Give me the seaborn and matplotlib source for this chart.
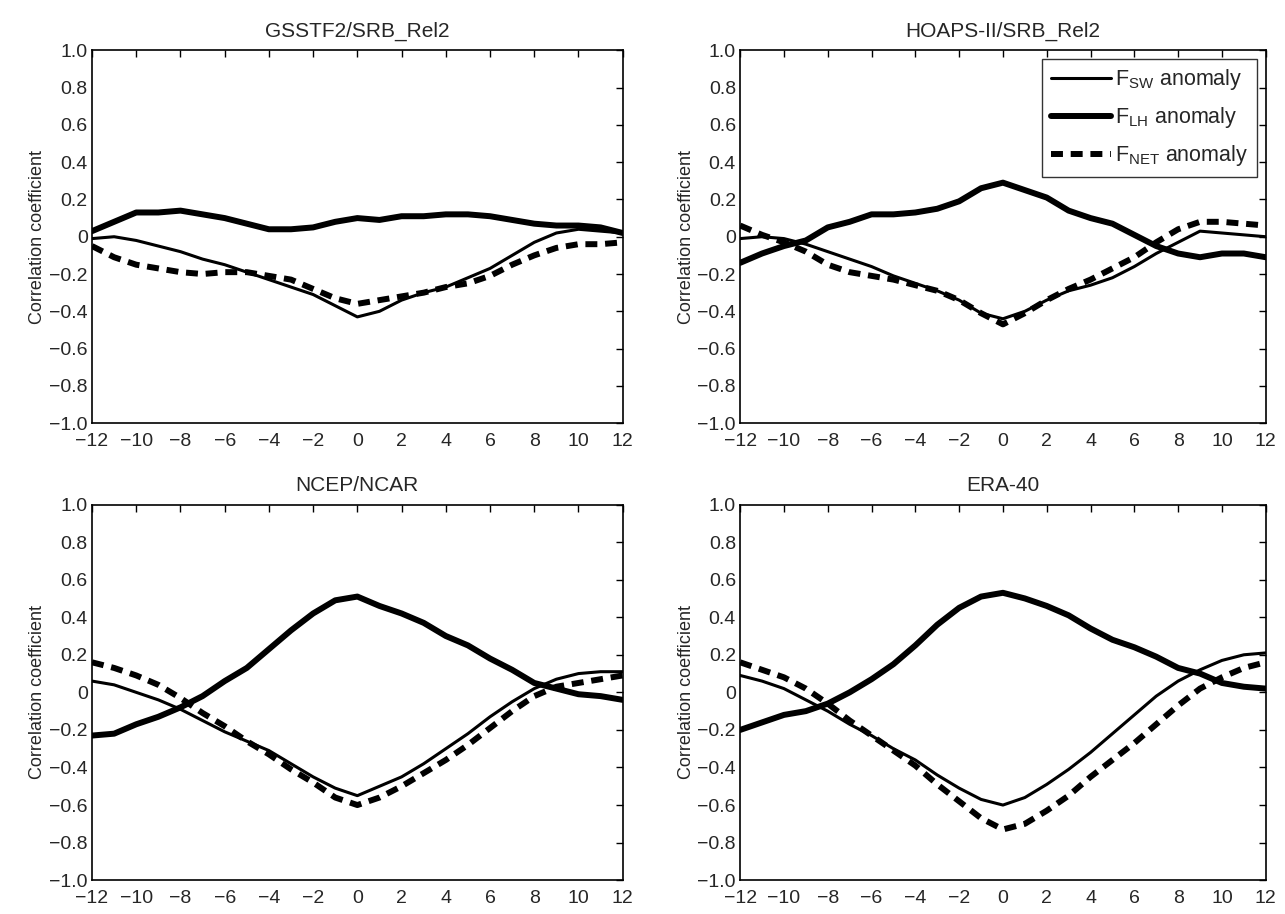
import numpy as np
import pandas as pd
import matplotlib
matplotlib.use("Agg")
import matplotlib.pyplot as plt
import seaborn as sns

# lag in months
lags = list(range(-12, 13))

titles = ["GSSTF2/SRB_Rel2", "HOAPS-II/SRB_Rel2", "NCEP/NCAR", "ERA-40"]

# F_SW anomaly (thin solid)
sw_gsstf = [-0.01, 0.0, -0.02, -0.05, -0.08, -0.12, -0.15, -0.19, -0.23, -0.27, -0.31, -0.37, -0.43,
            -0.40, -0.34, -0.30, -0.27, -0.22, -0.17, -0.10, -0.03, 0.02, 0.04, 0.03, 0.02]
sw_hoaps = [-0.01, 0.0, -0.01, -0.04, -0.08, -0.12, -0.16, -0.21, -0.25, -0.29, -0.34, -0.41, -0.44,
            -0.40, -0.34, -0.29, -0.26, -0.22, -0.16, -0.09, -0.03, 0.03, 0.02, 0.01, 0.0]
sw_ncep = [0.06, 0.04, 0.0, -0.04, -0.09, -0.15, -0.21, -0.26, -0.31, -0.38, -0.45, -0.51, -0.55,
           -0.50, -0.45, -0.38, -0.30, -0.22, -0.13, -0.05, 0.02, 0.07, 0.10, 0.11, 0.11]
sw_era = [0.09, 0.06, 0.02, -0.04, -0.10, -0.17, -0.23, -0.30, -0.36, -0.44, -0.51, -0.57, -0.60,
          -0.56, -0.49, -0.41, -0.32, -0.22, -0.12, -0.02, 0.06, 0.12, 0.17, 0.20, 0.21]

# F_LH anomaly (thick solid)
lh_gsstf = [0.03, 0.08, 0.13, 0.13, 0.14, 0.12, 0.10, 0.07, 0.04, 0.04, 0.05, 0.08, 0.10,
            0.09, 0.11, 0.11, 0.12, 0.12, 0.11, 0.09, 0.07, 0.06, 0.06, 0.05, 0.02]
lh_hoaps = [-0.14, -0.09, -0.05, -0.02, 0.05, 0.08, 0.12, 0.12, 0.13, 0.15, 0.19, 0.26, 0.29,
            0.25, 0.21, 0.14, 0.10, 0.07, 0.01, -0.05, -0.09, -0.11, -0.09, -0.09, -0.11]
lh_ncep = [-0.23, -0.22, -0.17, -0.13, -0.08, -0.02, 0.06, 0.13, 0.23, 0.33, 0.42, 0.49, 0.51,
           0.46, 0.42, 0.37, 0.30, 0.25, 0.18, 0.12, 0.05, 0.02, -0.01, -0.02, -0.04]
lh_era = [-0.20, -0.16, -0.12, -0.10, -0.06, 0.0, 0.07, 0.15, 0.25, 0.36, 0.45, 0.51, 0.53,
          0.50, 0.46, 0.41, 0.34, 0.28, 0.24, 0.19, 0.13, 0.10, 0.05, 0.03, 0.02]

# F_NET anomaly (thick dashed)
net_gsstf = [-0.05, -0.11, -0.15, -0.17, -0.19, -0.20, -0.19, -0.19, -0.21, -0.23, -0.28, -0.33, -0.36,
             -0.34, -0.32, -0.30, -0.27, -0.25, -0.21, -0.15, -0.10, -0.06, -0.04, -0.04, -0.03]
net_hoaps = [0.06, 0.01, -0.03, -0.08, -0.15, -0.19, -0.21, -0.23, -0.26, -0.29, -0.34, -0.41, -0.47,
             -0.41, -0.34, -0.28, -0.23, -0.17, -0.11, -0.03, 0.04, 0.08, 0.08, 0.07, 0.06]
net_ncep = [0.16, 0.13, 0.09, 0.04, -0.03, -0.11, -0.18, -0.26, -0.33, -0.41, -0.48, -0.56, -0.60,
            -0.56, -0.50, -0.43, -0.36, -0.28, -0.19, -0.10, -0.02, 0.03, 0.05, 0.07, 0.09]
net_era = [0.16, 0.12, 0.08, 0.02, -0.06, -0.15, -0.23, -0.31, -0.39, -0.49, -0.58, -0.67, -0.73,
           -0.70, -0.63, -0.55, -0.45, -0.36, -0.27, -0.17, -0.07, 0.02, 0.08, 0.13, 0.16]

sw_all = [sw_gsstf, sw_hoaps, sw_ncep, sw_era]
lh_all = [lh_gsstf, lh_hoaps, lh_ncep, lh_era]
net_all = [net_gsstf, net_hoaps, net_ncep, net_era]

sns.set_style("white")
plt.rcParams['font.family'] = ['Liberation Sans', 'DejaVu Sans']
plt.rcParams['mathtext.default'] = 'regular'

fig = plt.figure(figsize=(12.85, 9.14), dpi=100)
positions = [[0.0716, 0.537, 0.413, 0.408],
             [0.576, 0.537, 0.409, 0.408],
             [0.0716, 0.037, 0.413, 0.411],
             [0.576, 0.037, 0.409, 0.411]]

yticks = np.round(np.arange(-1.0, 1.01, 0.2), 1)
ylabels = ["0" if abs(v) < 1e-9 else f"{v:.1f}".replace("-", "\u2212") for v in yticks]

for i in range(4):
    ax = fig.add_axes(positions[i])
    df = pd.DataFrame({"lag": lags, "sw": sw_all[i], "lh": lh_all[i], "net": net_all[i]})
    sns.lineplot(data=df, x="lag", y="sw", ax=ax, color="black", lw=2.2,
                 label=r"$F_{SW}$ anomaly")
    sns.lineplot(data=df, x="lag", y="lh", ax=ax, color="black", lw=4.3,
                 label=r"$F_{LH}$ anomaly")
    sns.lineplot(data=df, x="lag", y="net", ax=ax, color="black", lw=4.3,
                 label=r"$F_{NET}$ anomaly")
    ax.lines[2].set_dashes((2, 1.3))
    ax.set_xlim(-12, 12)
    ax.set_ylim(-1, 1)
    ax.set_xticks(range(-12, 13, 2))
    ax.set_yticks(yticks)
    ax.set_yticklabels(ylabels)
    ax.tick_params(direction="in", top=True, right=True, length=5, width=1,
                   labelsize=14, color="black")
    ax.tick_params(axis="x", pad=7)
    ax.tick_params(axis="y", pad=3)
    for s in ax.spines.values():
        s.set_color("black")
        s.set_linewidth(1.2)
    ax.set_xlabel("")
    ax.set_ylabel("Correlation coefficient", fontsize=13, labelpad=2)
    ax.set_title(titles[i], fontsize=15, pad=10)
    if i == 1:
        leg = ax.legend(loc="upper right", fontsize=15.5, frameon=True, fancybox=False,
                        edgecolor="black", handlelength=2.8, handletextpad=0.2,
                        borderaxespad=0.4, labelspacing=0.6, borderpad=0.4)
        leg.get_frame().set_linewidth(1.0)
    else:
        ax.get_legend().remove()

fig.savefig("out.png", dpi=100)
